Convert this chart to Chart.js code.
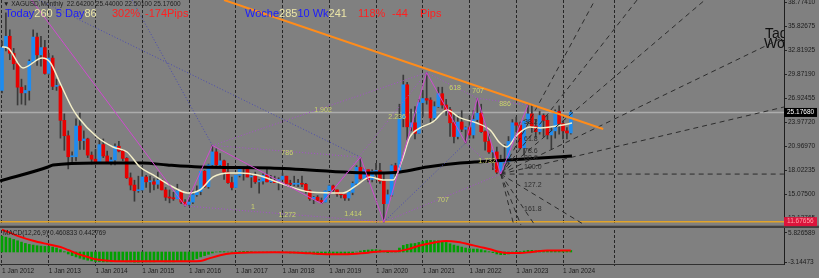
<!DOCTYPE html>
<html>
<head>
<meta charset="utf-8">
<title>XAGUSD Monthly</title>
<script src="https://cdn.jsdelivr.net/npm/chart.js@4.4.1/dist/chart.umd.min.js"></script>
<style>
  html, body { margin: 0; padding: 0; background: #808080; overflow: hidden; }
  #wrap { width: 819px; height: 278px; }
</style>
</head>
<body>
<div id="wrap"><canvas id="chart" width="819" height="278"></canvas></div>
<script>
// ---- axis labels ----
const yearLabels = ['1 Jan 2012', '1 Jan 2013', '1 Jan 2014', '1 Jan 2015', '1 Jan 2016', '1 Jan 2017',
  '1 Jan 2018', '1 Jan 2019', '1 Jan 2020', '1 Jan 2021', '1 Jan 2022', '1 Jan 2023', '1 Jan 2024', ''];
const gridMonths = [0, 12, 24, 36, 48, 60, 72, 84, 96, 108, 120, 132, 144, 157.1];
const priceTicks = [38.7741, 35.82675, 32.81925, 29.8719, 26.92455, 23.9772, 20.9697, 18.02235, 15.075, 12.12765];
const macdTicks = [5.826589, 0, -3.14473];
const macdTickLabels = ['5.826589', '0.00', '-3.14473'];

// ---- monthly candles, month 0 = Jan 2012 ----
const opens = [
  27.9, 33.2, 34.6, 32.5, 31.2, 28.3, 27.6, 27.9, 31.5, 34.5, 32.3, 33.2,
  30.0, 31.9, 28.4, 28.4, 24.2, 22.3, 19.7, 19.7, 23.5, 21.7, 21.9, 19.9,
  19.4, 19.1, 21.2, 19.8, 19.1, 19.3, 21.0, 20.4, 19.5, 17.1, 16.2, 15.5,
  15.6, 17.2, 16.6, 16.6, 16.3, 16.8, 15.6, 14.7, 14.6, 14.5, 15.5, 14.1,
  13.8, 14.1, 15.0, 15.4, 17.9, 16.0, 18.7, 20.3, 18.7, 19.2, 17.8, 16.5,
  15.9, 17.4, 18.3, 18.2, 17.2, 17.3, 16.6, 16.7, 17.4, 16.6, 16.7, 16.5,
  16.9, 17.3, 16.4, 16.3, 16.3, 16.4, 16.3, 15.5, 14.5, 14.7, 14.3, 14.1,
  15.5, 16.1, 15.6, 15.1, 15.0, 14.6, 15.3, 16.4, 18.4, 17.0, 18.1, 16.9,
  17.9, 18.0, 16.7, 13.9, 15.0, 18.6, 17.8, 24.4, 28.6, 23.4, 23.9, 22.6,
  26.4, 26.9, 26.7, 24.5, 25.9, 27.5, 26.1, 25.5, 23.9, 22.2, 24.0, 23.1,
  23.3, 22.4, 24.3, 25.1, 22.8, 21.6, 20.3, 20.3, 17.8, 19.0, 19.1, 21.6,
  23.9, 23.6, 20.8, 24.1, 25.0, 23.5, 22.8, 24.8, 24.2, 22.4, 22.9, 25.3,
  23.8, 22.9, 22.642
];
const highs = [
  34.0, 37.5, 35.4, 33.1, 31.4, 29.3, 28.5, 31.7, 35.4, 35.0, 34.6, 34.1,
  32.5, 32.2, 29.3, 28.5, 25.0, 22.9, 20.3, 24.4, 25.1, 22.9, 22.0, 20.3,
  20.6, 22.0, 21.9, 20.4, 19.6, 21.3, 21.6, 20.6, 19.6, 17.7, 16.8, 17.3,
  18.5, 17.4, 17.3, 17.0, 17.8, 16.9, 15.9, 15.6, 15.3, 16.3, 15.5, 14.4,
  14.6, 15.5, 16.1, 17.9, 18.0, 18.8, 21.1, 20.7, 20.1, 19.3, 18.9, 17.2,
  17.4, 18.5, 18.4, 18.6, 17.6, 17.8, 16.9, 17.6, 18.2, 17.4, 17.3, 17.1,
  17.7, 17.3, 16.8, 17.3, 16.9, 17.3, 16.4, 15.6, 14.8, 14.9, 14.6, 15.5,
  16.2, 16.2, 15.6, 15.2, 15.0, 15.4, 16.6, 18.6, 19.6, 18.2, 18.1, 18.1,
  18.9, 18.9, 17.6, 15.6, 18.7, 18.9, 26.2, 29.8, 28.9, 25.6, 25.9, 26.8,
  27.9, 30.1, 27.0, 26.5, 28.3, 28.3, 26.8, 25.8, 24.9, 24.8, 25.4, 23.4,
  24.7, 25.4, 26.9, 26.2, 22.9, 22.5, 20.4, 20.9, 19.9, 21.2, 22.2, 24.3,
  24.6, 24.0, 24.2, 26.1, 26.1, 24.3, 25.3, 25.0, 24.8, 23.3, 25.5, 26.0,
  24.1, 23.3, 25.44
];
const lows = [
  27.6, 32.8, 31.7, 30.5, 26.1, 26.2, 26.1, 26.7, 31.4, 31.0, 30.9, 29.9,
  29.9, 28.0, 27.9, 22.0, 20.5, 18.2, 18.8, 19.2, 20.6, 20.6, 19.6, 18.8,
  18.9, 19.1, 19.6, 19.0, 18.7, 18.7, 20.3, 19.2, 17.0, 15.6, 14.2, 15.3,
  15.5, 15.9, 15.3, 15.6, 15.8, 15.6, 14.3, 14.0, 14.3, 14.5, 13.9, 13.6,
  13.6, 13.9, 14.8, 15.0, 15.9, 15.8, 18.6, 18.6, 18.6, 16.9, 16.4, 15.6,
  15.9, 17.2, 16.8, 17.2, 15.9, 16.4, 15.2, 16.3, 16.6, 16.5, 16.6, 15.6,
  16.9, 16.1, 16.1, 16.1, 16.0, 16.0, 15.2, 14.3, 13.9, 14.2, 13.9, 14.1,
  15.3, 15.4, 14.8, 14.6, 14.3, 14.3, 15.0, 16.2, 16.9, 17.0, 16.6, 16.6,
  17.4, 16.4, 11.64, 13.9, 14.8, 17.2, 17.8, 23.4, 21.8, 22.9, 21.9, 22.6,
  24.7, 26.2, 23.8, 24.1, 25.8, 25.7, 24.8, 22.2, 21.4, 21.9, 22.8, 21.4,
  22.0, 22.0, 24.0, 22.7, 20.5, 20.1, 18.1, 17.6, 17.56, 18.1, 18.8, 21.6,
  22.8, 20.7, 19.9, 24.0, 22.7, 22.1, 22.5, 22.2, 21.9, 20.7, 22.0, 22.5,
  21.9, 21.9, 22.501
];
const closes = [
  33.2, 34.6, 32.5, 31.2, 28.3, 27.6, 27.9, 31.5, 34.5, 32.3, 33.2, 30.0,
  31.9, 28.4, 28.4, 24.2, 22.3, 19.7, 19.7, 23.5, 21.7, 21.9, 19.9, 19.4,
  19.1, 21.2, 19.8, 19.1, 19.3, 21.0, 20.4, 19.5, 17.1, 16.2, 15.5, 15.6,
  17.2, 16.6, 16.6, 16.3, 16.8, 15.6, 14.7, 14.6, 14.5, 15.5, 14.1, 13.8,
  14.1, 15.0, 15.4, 17.9, 16.0, 18.7, 20.3, 18.7, 19.2, 17.8, 16.5, 15.9,
  17.4, 18.3, 18.2, 17.2, 17.3, 16.6, 16.7, 17.4, 16.6, 16.7, 16.5, 16.9,
  17.3, 16.4, 16.3, 16.3, 16.4, 16.3, 15.5, 14.5, 14.7, 14.3, 14.1, 15.5,
  16.1, 15.6, 15.1, 15.0, 14.6, 15.3, 16.4, 18.4, 17.0, 18.1, 16.9, 17.9,
  18.0, 16.7, 13.9, 15.0, 18.6, 17.8, 24.4, 28.6, 23.4, 23.9, 22.6, 26.4,
  26.9, 26.7, 24.5, 25.9, 27.5, 26.1, 25.5, 23.9, 22.2, 24.0, 23.1, 23.3,
  22.4, 24.3, 25.1, 22.8, 21.6, 20.3, 20.3, 17.8, 19.0, 19.1, 21.6, 23.9,
  23.6, 20.8, 24.1, 25.0, 23.5, 22.8, 24.8, 24.2, 22.4, 22.9, 25.3, 23.8,
  22.9, 22.64, 25.1768
];

// ---- moving averages ----
const whiteMaMonths = [0, 1.5, 5.4, 10.3, 12.3, 14.9, 18, 19.5, 24.4, 28.5, 32.1, 35.4, 38.8, 43.9, 47.7, 50.8,
  54.2, 58.5, 61.1, 65.5, 71.4, 79.1, 87.5, 91.1, 94.5, 97.8, 100.4, 102.7, 104.7, 107.3, 110.6, 114.2,
  117.6, 121.9, 125.3, 127.8, 129.6, 132.2, 135.5, 138.1, 140.7, 144, 146.3];
const whiteMaPrices = [33.27, 33.15, 30.68, 31.91, 31.42, 28.82, 25.73, 24.62, 22.14, 20.91, 20.29, 18.44, 17.45, 15.96, 15.22, 15.59,
  17.2, 17.7, 17.7, 17.45, 16.45, 15.34, 15.22, 16.2, 17.2, 16.83, 16.83, 19.3, 22.14, 23.26, 24.0, 25.48,
  24.5, 23.87, 23.0, 21.4, 20.91, 22.4, 23.38, 23.26, 23.38, 23.63, 23.87];
const blackMaMonths = [-0.5, 11.8, 13.1, 24.4, 36.2, 42.4, 50.8, 68.8, 96.3, 102.2, 109.1, 117.6, 126, 138.1, 146.3];
const blackMaPrices = [16.7, 18.43, 18.68, 18.93, 18.93, 18.68, 18.43, 18.31, 17.69, 17.81, 18.43, 18.93, 19.17, 19.55, 19.8];

// ---- MACD(12,26,9) ----
const macdMain = [
  4.8, 4.5, 4.2, 3.8, 3.4, 3.0, 2.6, 2.3, 2.1, 1.9, 1.8, 1.7,
  1.7, 1.5, 1.2, 0.7, 0.1, -0.6, -1.1, -1.5, -1.9, -2.2, -2.5, -2.7,
  -2.9, -2.9, -3.0, -3.0, -3.0, -2.9, -2.9, -2.9, -3.0, -3.0, -3.1, -3.1,
  -3.0, -3.0, -3.0, -3.0, -2.9, -2.9, -3.0, -3.0, -3.0, -2.9, -2.9, -2.9,
  -2.7, -2.4, -2.0, -1.5, -1.1, -0.7, -0.3, 0.0, 0.1, 0.1, 0.0, -0.1,
  0.0, 0.1, 0.2, 0.2, 0.1, 0.0, -0.1, -0.1, -0.1, -0.1, -0.2, -0.2,
  -0.2, -0.2, -0.3, -0.3, -0.3, -0.3, -0.4, -0.5, -0.6, -0.7, -0.8, -0.8,
  -0.8, -0.8, -0.7, -0.7, -0.7, -0.6, -0.4, 0.0, 0.3, 0.5, 0.6, 0.7,
  0.7, 0.6, 0.0, -0.2, 0.0, 0.1, 1.2, 2.0, 2.3, 2.5, 2.6, 2.9,
  3.2, 3.5, 3.5, 3.4, 3.4, 3.2, 2.9, 2.5, 2.1, 1.8, 1.5, 1.2,
  1.0, 0.9, 0.9, 0.7, 0.4, 0.1, -0.2, -0.6, -0.8, -0.8, -0.6, -0.2,
  0.1, 0.1, 0.3, 0.5, 0.5, 0.4, 0.5, 0.5, 0.4, 0.3, 0.5, 0.5,
  0.4, 0.3, 0.46
];
const signalMonths = [0, 4, 8, 12, 15, 17, 19, 22, 24, 28, 34, 45, 51, 53, 56, 59, 62, 70, 76, 82, 88, 94,
  98, 101, 104, 107, 111, 114, 117, 121, 125, 129, 133, 136, 140, 146];
const signalValues = [6.8, 4.9, 3.4, 2.3, 1.5, 0.6, -0.4, -1.5, -2.2, -2.7, -2.8, -2.8, -2.7, -2.0, -1.0, -0.4, -0.2, -0.1, -0.2, -0.6, -0.7, -0.2,
  0.2, 0.2, 0.8, 1.9, 2.9, 3.3, 3.0, 2.0, 0.9, -0.2, -0.3, 0.0, 0.45, 0.44];

// ---- drawn objects: zigzag pivots A..K ----
const pivotMonths = [-9, 47, 54, 82, 92, 98, 109, 119, 122, 128, 135];
const pivotPrices = [49.8, 13.62, 21.1, 13.9, 19.65, 11.64, 30.1, 21.4, 26.94, 17.56, 26.1];
const purpleLinks = [[2, 6], [2, 4], [1, 5], [3, 6], [6, 8], [8, 10], [5, 9], [7, 9]];
const blueLines = [
  [[9.5, 39.08], [92, 19.65]],
  [[33.4, 39.08], [54, 21.1]],
  [[98, 11.64], [119, 21.4]]
];
const fanEndMonths = [200.7, 200.7, 180.4, 163.0, 152.2, 200.7, 131.7, 133.7, 137.6, 150.4];
const fanEndPrices = [25.85, 34.5, 39.08, 39.08, 39.08, 17.56, 10.64, 10.64, 10.64, 11.02];
const trendMonths = [57.0, 154.3];
const trendPrices = [39.08, 23.13];
const lastPrice = 25.1768;
const lowLevel = 11.67656;

const ratioTexts = ['1.902', '2.236', '786', '1.272', '1.414', '618', '707', '886', '1.732', '707', '1'];
const ratioMonths = [82.4, 101.4, 73.2, 73.2, 90.1, 116.3, 122.2, 129.1, 124.5, 113.2, 64.4];
const ratioPrices = [25.48, 24.62, 20.17, 12.5, 12.62, 28.2, 27.83, 26.22, 19.17, 14.35, 13.49];
const fanTexts = ['38.2', '61.8', '78.6', '88.6', '100.0', '127.2', '161.8'];
const fanPrices = [24.0, 21.9, 20.41, 19.55, 18.44, 16.2, 13.24];
const fanTextMonth = 134.0;

// ---- helpers ----
// chart.js clips each dataset to the area of its own x/y scales
const pts = (xs, ys) => xs.map((x, k) => ({ x, y: ys[k] }));

function lineSet(data, color, width, dash, order, extra) {
  return Object.assign({
    type: 'line', data, borderColor: color, borderWidth: width, borderDash: dash || [],
    pointRadius: 0, tension: 0, fill: false, order, yAxisID: 'y', clip: 0
  }, extra || {});
}

const months = closes.map((_, i) => i);
const datasets = [];

// orange trend line
datasets.push(lineSet(pts(trendMonths, trendPrices), '#ff8c1a', 2, [], 1));
// magenta zigzag
datasets.push(lineSet(pts(pivotMonths, pivotPrices), '#d04ad0', 1, [], 2));
// fan from pivot J
fanEndMonths.forEach((m, k) => {
  datasets.push(lineSet([{ x: pivotMonths[9], y: pivotPrices[9] }, { x: m, y: fanEndPrices[k] }], '#2c2c2c', 1, [5, 4], 3));
});
// dotted pattern lines
purpleLinks.forEach(([a, b]) => {
  datasets.push(lineSet([{ x: pivotMonths[a], y: pivotPrices[a] }, { x: pivotMonths[b], y: pivotPrices[b] }], '#a64fcc', 1, [1, 2], 4));
});
blueLines.forEach(seg => {
  datasets.push(lineSet(seg.map(p => ({ x: p[0], y: p[1] })), '#4a4ab0', 1, [1, 2], 4));
});
// moving averages
datasets.push(lineSet(pts(whiteMaMonths, whiteMaPrices), '#f4efc8', 1.5, [], 5, { cubicInterpolationMode: 'monotone' }));
datasets.push(lineSet(pts(blackMaMonths, blackMaPrices), '#000000', 3, [], 6, { cubicInterpolationMode: 'monotone' }));
// candles
datasets.push({
  type: 'bar', order: 7, yAxisID: 'y', clip: 0, grouped: false,
  data: months.map(i => ({ x: i, y: [opens[i], closes[i]] })),
  backgroundColor: months.map(i => closes[i] >= opens[i] ? '#1e8cf0' : '#e80000'),
  barThickness: 3, minBarLength: 1, borderWidth: 0
});
datasets.push({
  type: 'bar', order: 8, yAxisID: 'y', clip: 0, grouped: false,
  data: months.map(i => ({ x: i, y: [lows[i], highs[i]] })),
  backgroundColor: '#3a3a3a', barThickness: 1, borderWidth: 0
});
// horizontal levels
datasets.push(lineSet([{ x: -1, y: lowLevel }, { x: 202, y: lowLevel }], '#e0a42a', 1.5, [], 9));
datasets.push(lineSet([{ x: -1, y: lastPrice }, { x: 202, y: lastPrice }], '#acacac', 1.5, [], 10));
// MACD pane
datasets.push(lineSet(pts(signalMonths, signalValues), '#ff0000', 2, [], 1,
  { yAxisID: 'm', cubicInterpolationMode: 'monotone' }));
datasets.push({
  type: 'bar', order: 2, yAxisID: 'm', clip: 0, grouped: false,
  data: months.map(i => ({ x: i, y: macdMain[i] })),
  backgroundColor: '#00a000', barThickness: 2, borderWidth: 0
});

// ---- overlay texts, separator, price boxes ----
const headTexts = [
  { x: 5, parts: [['Today', '#1a1aff'], ['260', '#ece6a8'], [' 5 Day', '#1a1aff'], ['86', '#ece6a8']] },
  { x: 112, parts: [['302%', '#ff2020']] },
  { x: 145, parts: [['-174Pips', '#ff2020']] },
  { x: 245, parts: [['Woche', '#1a1aff'], ['285', '#ece6a8'], ['10 Wk', '#1a1aff'], ['241', '#ece6a8']] },
  { x: 358, parts: [['118%', '#ff2020']] },
  { x: 392, parts: [['-44', '#ff2020']] },
  { x: 420, parts: [['Pips', '#ff2020']] }
];

const overlayPlugin = {
  id: 'overlay',
  afterDatasetsDraw(chart) {
    const ctx = chart.ctx;
    const xs = chart.scales.x, ys = chart.scales.y;
    const right = chart.chartArea.right;
    ctx.save();

    // pane separator
    ctx.fillStyle = '#6c6c6c';
    ctx.fillRect(0, 225, 819, 1);
    ctx.fillStyle = '#404040';
    ctx.fillRect(0, 226, 819, 2);

    // fib ratio labels
    ctx.font = '7px "Liberation Sans", Arial, sans-serif';
    ctx.textAlign = 'center';
    ctx.textBaseline = 'middle';
    ctx.fillStyle = '#ccd46c';
    ratioTexts.forEach((t, k) => ctx.fillText(t, xs.getPixelForValue(ratioMonths[k]), ys.getPixelForValue(ratioPrices[k])));

    // fan labels
    ctx.textAlign = 'left';
    ctx.fillStyle = '#2e2e2e';
    fanTexts.forEach((t, k) => ctx.fillText(t, xs.getPixelForValue(fanTextMonth), ys.getPixelForValue(fanPrices[k])));

    // header
    ctx.font = '6.5px "Liberation Sans", Arial, sans-serif';
    ctx.fillStyle = '#1e1e1e';
    ctx.fillText('\u25BC XAGUSD,Monthly  22.64200 25.44000 22.50100 25.17600', 3, 4.5);
    ctx.fillText('MACD(12,26,9) 0.460833 0.442769', 3, 233);

    ctx.font = '11px "Liberation Sans", Arial, sans-serif';
    ctx.textBaseline = 'alphabetic';
    headTexts.forEach(h => {
      let x = h.x;
      h.parts.forEach(([t, c]) => {
        ctx.fillStyle = c;
        ctx.fillText(t, x, 16.5);
        x += ctx.measureText(t).width;
      });
    });

    // big clipped labels near the axis
    ctx.save();
    ctx.beginPath();
    ctx.rect(0, 0, right, 224);
    ctx.clip();
    ctx.font = '14px "Liberation Sans", Arial, sans-serif';
    ctx.fillStyle = '#101010';
    ctx.fillText('Tag', 765, 38);
    ctx.fillText('Woche', 764, 48);
    ctx.restore();

    // price boxes on the axis
    ctx.font = '6.5px "Liberation Sans", Arial, sans-serif';
    ctx.textBaseline = 'middle';
    const yLast = ys.getPixelForValue(lastPrice);
    ctx.fillStyle = '#000000';
    ctx.fillRect(right, yLast - 4.5, 33, 9);
    ctx.fillStyle = '#ffffff';
    ctx.fillText('25.17680', right + 3, yLast);
    const yLow = ys.getPixelForValue(lowLevel);
    ctx.fillStyle = '#dc143c';
    ctx.fillRect(right, yLow - 4.5, 33, 9);
    ctx.fillStyle = '#ffa0a8';
    ctx.fillText('11.67656', right + 3, yLow);

    ctx.restore();
  }
};

const axisFont = { family: '"Liberation Sans", Arial, sans-serif', size: 6.5 };
const zeroPad = s => { s.paddingTop = 0; s.paddingBottom = 0; s.paddingLeft = 0; s.paddingRight = 0; };

new Chart(document.getElementById('chart'), {
  type: 'bar',
  data: { datasets },
  plugins: [overlayPlugin],
  options: {
    responsive: false,
    animation: false,
    devicePixelRatio: 1,
    events: [],
    layout: { padding: 0 },
    plugins: { legend: { display: false }, tooltip: { enabled: false } },
    scales: {
      x: {
        type: 'linear', position: 'bottom', min: -0.513, max: 200.72, offset: false,
        grid: { offset: false, color: '#262626', lineWidth: 1, drawTicks: true, tickLength: 2 },
        border: { display: true, color: '#303030', width: 1, dash: [3, 2] },
        ticks: {
          font: axisFont, color: '#1c1c1c', align: 'start', padding: 1, maxRotation: 0, autoSkip: false,
          callback: (v, idx) => yearLabels[idx] || ''
        },
        afterBuildTicks: s => { s.ticks = gridMonths.map(v => ({ value: v })); },
        afterFit: s => { s.height = 14; zeroPad(s); }
      },
      y: {
        type: 'linear', position: 'right', stack: 'panes', stackWeight: 226,
        min: 11.138, max: 39.083,
        grid: { drawOnChartArea: false, drawTicks: true, tickLength: 3, color: '#262626' },
        border: { display: true, color: '#1e1e1e', width: 1 },
        ticks: { font: axisFont, color: '#1c1c1c', padding: 1, callback: v => v.toFixed(5) },
        afterBuildTicks: s => { s.ticks = priceTicks.map(v => ({ value: v })); },
        afterFit: s => { s.width = 35; zeroPad(s); }
      },
      m: {
        type: 'linear', position: 'right', stack: 'panes', stackWeight: 38,
        min: -3.64, max: 7.88,
        grid: { drawOnChartArea: false, drawTicks: true, tickLength: 3, color: '#262626' },
        border: { display: true, color: '#1e1e1e', width: 1 },
        ticks: { font: axisFont, color: '#1c1c1c', padding: 1, callback: (v, idx) => macdTickLabels[idx] },
        afterBuildTicks: s => { s.ticks = macdTicks.map(v => ({ value: v })); },
        afterFit: s => { s.width = 35; zeroPad(s); }
      }
    }
  }
});
</script>
</body>
</html>
